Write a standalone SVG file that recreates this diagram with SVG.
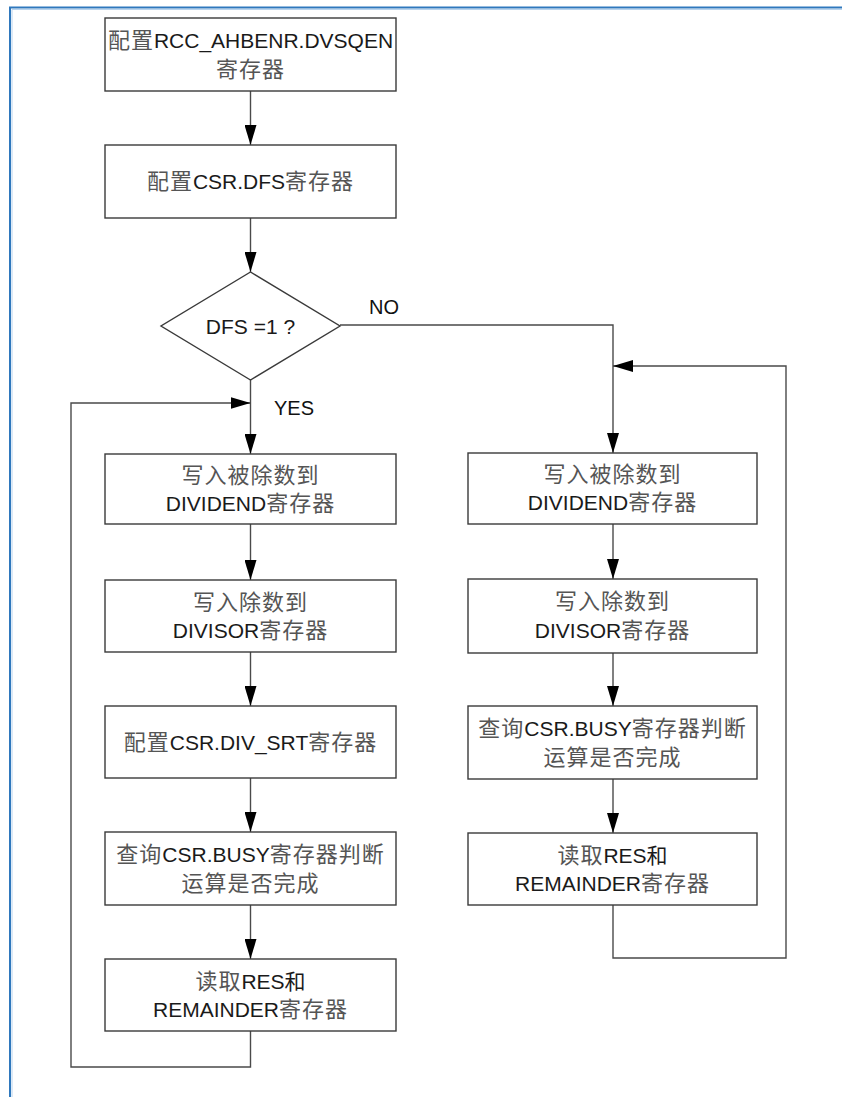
<svg xmlns="http://www.w3.org/2000/svg" width="842" height="1097" viewBox="0 0 842 1097">
<style>
.box{fill:#fff;stroke:#3a3a3a;stroke-width:1.4}
.ln{fill:none;stroke:#4a4a4a;stroke-width:1.4}
.t{font-family:"Liberation Sans","Noto Sans CJK SC",sans-serif;font-size:21px;fill:#1a1a1a;text-anchor:middle}
.c{font-family:"Noto Sans CJK SC",sans-serif;font-size:22px;fill:#555;letter-spacing:1px}
.lbl{font-family:"Liberation Sans",sans-serif;font-size:20px;fill:#111}
</style>
<defs>
<marker id="ar" markerUnits="userSpaceOnUse" markerWidth="20" markerHeight="12" refX="20" refY="6" orient="auto">
<path d="M0,0 L20,6 L0,12 Z" fill="#000"/>
</marker>
</defs>
<rect width="842" height="1097" fill="#fff"/>
<g id="frame">
<path d="M10,1097 V7.5 H842" fill="none" stroke="#2f78bd" stroke-width="2"/>
<path d="M12,1097 V9.5 H842" fill="none" stroke="#b9d4ee" stroke-width="1"/>
</g>
<g id="connectors">
<path class="ln" d="M250.5,91 V145" marker-end="url(#ar)"/>
<path class="ln" d="M250.5,218 V272" marker-end="url(#ar)"/>
<path class="ln" d="M250.5,380 V454" marker-end="url(#ar)"/>
<path class="ln" d="M250.5,524 V580" marker-end="url(#ar)"/>
<path class="ln" d="M250.5,652 V706" marker-end="url(#ar)"/>
<path class="ln" d="M250.5,778 V832" marker-end="url(#ar)"/>
<path class="ln" d="M250.5,905 V959" marker-end="url(#ar)"/>
<path class="ln" d="M250.5,1031 V1067 H71 V403 H250.5" marker-end="url(#ar)"/>
<path class="ln" d="M340,325 H613 V453" marker-end="url(#ar)"/>
<path class="ln" d="M613,524 V579" marker-end="url(#ar)"/>
<path class="ln" d="M613,653 V706" marker-end="url(#ar)"/>
<path class="ln" d="M613,779 V833" marker-end="url(#ar)"/>
<path class="ln" d="M613,905 V958 H786 V366 H613" marker-end="url(#ar)"/>
<text class="lbl" x="369" y="314">NO</text>
<text class="lbl" x="274" y="415">YES</text>
</g>
<g id="n1">
<rect class="box" x="105" y="18" width="291" height="73"/>
<text class="t" x="250.5" y="48"><tspan class="c">配置</tspan>RCC_AHBENR.DVSQEN<tspan class="c" x="250.5" dy="29">寄存器</tspan></text>
</g>
<g id="n2">
<rect class="box" x="105" y="145" width="291" height="73"/>
<text class="t" x="250.5" y="189"><tspan class="c">配置</tspan>CSR.DFS<tspan class="c">寄存器</tspan></text>
</g>
<g id="decision">
<polygon class="box" points="250.5,272 340,326 250.5,380 161,326"/>
<text class="t" x="250.5" y="334">DFS =1 ?</text>
</g>
<g id="l1">
<rect class="box" x="105" y="454" width="291" height="70"/>
<text class="t" x="250.5" y="483"><tspan class="c">写入被除数到</tspan><tspan x="250.5" dy="28">DIVIDEND</tspan><tspan class="c">寄存器</tspan></text>
</g>
<g id="l2">
<rect class="box" x="105" y="580" width="291" height="72"/>
<text class="t" x="250.5" y="610"><tspan class="c">写入除数到</tspan><tspan x="250.5" dy="28">DIVISOR</tspan><tspan class="c">寄存器</tspan></text>
</g>
<g id="l3">
<rect class="box" x="105" y="706" width="291" height="72"/>
<text class="t" x="250.5" y="750"><tspan class="c">配置</tspan>CSR.DIV_SRT<tspan class="c">寄存器</tspan></text>
</g>
<g id="l4">
<rect class="box" x="105" y="832" width="291" height="73"/>
<text class="t" x="250.5" y="862"><tspan class="c">查询</tspan>CSR.BUSY<tspan class="c">寄存器判断</tspan><tspan class="c" x="250.5" dy="29">运算是否完成</tspan></text>
</g>
<g id="l5">
<rect class="box" x="105" y="959" width="291" height="72"/>
<text class="t" x="250.5" y="989"><tspan class="c">读取</tspan>RES和<tspan x="250.5" dy="28">REMAINDER</tspan><tspan class="c">寄存器</tspan></text>
</g>
<g id="r1">
<rect class="box" x="468" y="453" width="289" height="71"/>
<text class="t" x="612.5" y="482"><tspan class="c">写入被除数到</tspan><tspan x="612.5" dy="28">DIVIDEND</tspan><tspan class="c">寄存器</tspan></text>
</g>
<g id="r2">
<rect class="box" x="468" y="579" width="289" height="74"/>
<text class="t" x="612.5" y="609"><tspan class="c">写入除数到</tspan><tspan x="612.5" dy="29">DIVISOR</tspan><tspan class="c">寄存器</tspan></text>
</g>
<g id="r3">
<rect class="box" x="468" y="706" width="289" height="73"/>
<text class="t" x="612.5" y="736"><tspan class="c">查询</tspan>CSR.BUSY<tspan class="c">寄存器判断</tspan><tspan class="c" x="612.5" dy="29">运算是否完成</tspan></text>
</g>
<g id="r4">
<rect class="box" x="468" y="833" width="289" height="72"/>
<text class="t" x="612.5" y="863"><tspan class="c">读取</tspan>RES和<tspan x="612.5" dy="28">REMAINDER</tspan><tspan class="c">寄存器</tspan></text>
</g>
</svg>
